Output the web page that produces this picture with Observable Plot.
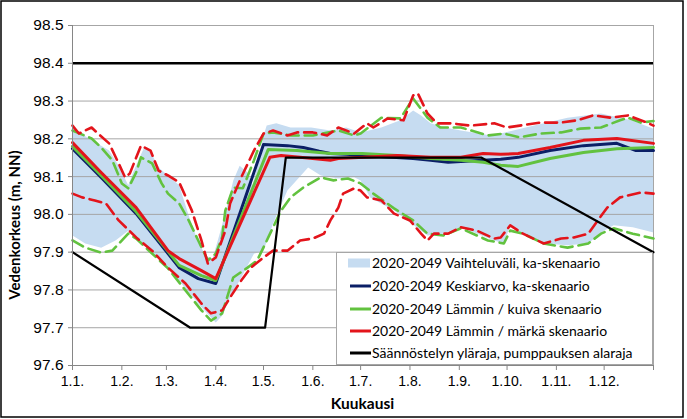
<!DOCTYPE html>
<html><head><meta charset="utf-8">
<script src="https://cdn.jsdelivr.net/npm/d3@7"></script>
<script src="https://cdn.jsdelivr.net/npm/@observablehq/plot@0.6"></script>
<style>
html,body{margin:0;padding:0;background:#fff;}
#chart{width:687px;height:419px;}
</style></head><body><div id="chart"></div>
<script>
// Day-of-year (0 = 1.1.) and water level (m, NN)
const monthDays = [0,31,59,90,120,151,181,212,243,273,304,334];
const monthLabels = ["1.1.","1.2.","1.3.","1.4.","1.5.","1.6.","1.7.","1.8.","1.9.","1.10.","1.11.","1.12."];
const yTicks = [97.6,97.7,97.8,97.9,98.0,98.1,98.2,98.3,98.4,98.5];
const upperLimit = 98.4;

const bandUpper = [[0,98.230],[9,98.204],[23,98.169],[29,98.129],[35,98.077],[38,98.111],[45,98.177],[49,98.164],[55,98.121],[60,98.103],[67,98.077],[73,97.997],[79,97.926],[84,97.889],[88,97.883],[93,97.957],[98,98.037],[101,98.090],[105,98.129],[110,98.111],[113,98.077],[117,98.143],[120,98.209],[122,98.235],[128,98.241],[137,98.230],[150,98.230],[162,98.222],[172,98.230],[181,98.217],[194,98.230],[206,98.249],[214,98.275],[219,98.262],[225,98.241],[234,98.230],[244,98.222],[263,98.209],[269,98.214],[290,98.235],[311,98.256],[332,98.267],[351,98.249],[365,98.227]];
const bandLower = [[0,97.944],[8,97.923],[18,97.912],[27,97.931],[35,97.957],[40,97.939],[60,97.859],[81,97.754],[90,97.714],[94,97.732],[99,97.780],[106,97.833],[114,97.896],[120,97.904],[126,97.976],[135,98.063],[148,98.124],[156,98.103],[167,98.095],[177,98.098],[181,98.090],[187,98.045],[202,98.010],[219,97.957],[223,97.944],[233,97.949],[244,97.966],[265,97.931],[271,97.923],[275,97.971],[281,97.952],[296,97.923],[311,97.918],[324,97.923],[332,97.952],[340,97.971],[352,97.966],[365,97.952]];

const meanKa = [[0,98.174],[18,98.098],[40,98.002],[60,97.896],[67,97.859],[79,97.830],[90,97.817],[120,98.185],[135,98.182],[145,98.177],[155,98.167],[162,98.161],[172,98.159],[193,98.153],[214,98.148],[225,98.143],[236,98.138],[244,98.140],[258,98.143],[269,98.146],[280,98.151],[300,98.169],[321,98.182],[342,98.188],[354,98.169],[365,98.169]];
const warmDry = [[0,98.180],[18,98.103],[40,98.007],[60,97.902],[67,97.865],[81,97.838],[90,97.825],[123,98.172],[141,98.169],[162,98.161],[182,98.161],[204,98.156],[225,98.148],[244,98.143],[258,98.138],[269,98.130],[280,98.127],[300,98.148],[321,98.164],[342,98.174],[365,98.177]];
const warmWet = [[0,98.190],[18,98.111],[40,98.018],[60,97.904],[67,97.883],[81,97.851],[90,97.830],[124,98.151],[131,98.156],[143,98.151],[162,98.143],[167,98.148],[183,98.151],[204,98.156],[225,98.151],[244,98.151],[258,98.161],[269,98.159],[280,98.161],[290,98.169],[300,98.177],[321,98.196],[342,98.201],[365,98.188]];

const warmDryMax = [[0,98.222],[12,98.201],[18,98.177],[25,98.143],[31,98.082],[35,98.069],[40,98.111],[43,98.151],[50,98.135],[56,98.082],[60,98.055],[67,98.029],[73,97.984],[79,97.931],[85,97.878],[90,97.896],[94,97.939],[96,98.010],[101,98.071],[107,98.069],[114,98.143],[120,98.214],[126,98.217],[137,98.209],[151,98.209],[167,98.222],[177,98.209],[181,98.214],[194,98.256],[206,98.254],[214,98.307],[223,98.256],[231,98.230],[244,98.230],[261,98.209],[271,98.214],[281,98.204],[294,98.214],[307,98.217],[319,98.227],[332,98.230],[344,98.249],[349,98.256],[357,98.243],[365,98.247]];
const warmWetMax = [[0,98.235],[4,98.214],[12,98.230],[16,98.214],[23,98.188],[29,98.135],[33,98.098],[36,98.108],[43,98.182],[49,98.169],[54,98.116],[60,98.103],[67,98.085],[75,98.010],[81,97.931],[85,97.870],[90,97.886],[96,97.957],[99,98.029],[106,98.098],[114,98.169],[120,98.214],[126,98.222],[135,98.209],[141,98.217],[151,98.217],[160,98.209],[167,98.230],[177,98.214],[185,98.241],[189,98.230],[198,98.254],[208,98.249],[214,98.315],[217,98.320],[223,98.267],[229,98.241],[238,98.241],[250,98.235],[265,98.241],[273,98.230],[281,98.235],[294,98.243],[307,98.243],[317,98.249],[327,98.262],[338,98.256],[349,98.262],[361,98.243],[365,98.235]];
const warmDryMin = [[0,97.931],[8,97.912],[18,97.899],[25,97.904],[35,97.949],[40,97.936],[60,97.857],[81,97.746],[87,97.719],[94,97.738],[101,97.833],[110,97.859],[116,97.878],[123,97.939],[131,98.010],[137,98.045],[145,98.071],[156,98.098],[164,98.090],[173,98.095],[181,98.082],[189,98.055],[202,98.016],[214,97.984],[223,97.949],[233,97.944],[244,97.963],[261,97.931],[271,97.923],[275,97.957],[283,97.949],[296,97.923],[311,97.912],[324,97.923],[332,97.949],[340,97.963],[352,97.949],[365,97.936]];
const warmWetMin = [[0,98.055],[6,98.045],[14,98.037],[21,98.029],[29,97.984],[40,97.939],[50,97.904],[60,97.859],[71,97.817],[81,97.764],[87,97.738],[94,97.746],[99,97.780],[106,97.825],[112,97.859],[120,97.886],[126,97.904],[135,97.904],[143,97.931],[151,97.936],[158,97.949],[162,97.984],[167,98.018],[170,98.055],[177,98.069],[181,98.063],[185,98.045],[194,98.037],[202,98.002],[212,97.984],[219,97.949],[223,97.931],[227,97.949],[236,97.949],[244,97.966],[254,97.957],[265,97.936],[269,97.939],[275,97.971],[283,97.949],[296,97.923],[307,97.936],[315,97.939],[324,97.949],[330,97.984],[336,98.018],[344,98.045],[357,98.058],[365,98.055]];

const regulation = [[0,97.9],[74,97.7],[121,97.7],[134,98.15],[257,98.15],[365,97.9]];

const legendLabels = ["2020-2049 Vaihteluväli, ka-skenaario","2020-2049 Keskiarvo, ka-skenaario","2020-2049 Lämmin / kuiva skenaario","2020-2049 Lämmin / märkä skenaario","Säännöstelyn yläraja, pumppauksen alaraja"];

const C = {band:"#c6dcf1", navy:"#0b1f66", green:"#62c23f", red:"#e3141b", black:"#000", grid:"#a6a6a6", axis:"#868686"};

const bandPoly = bandUpper.concat(bandLower.slice().reverse());
const X = d => d[0], Y = d => d[1];
const dash = {x:X, y:Y, strokeWidth:2.6, strokeDasharray:"12,6"};
const solid = {x:X, y:Y, strokeWidth:3};

const svg = Plot.plot({
  width: 687, height: 419,
  marginLeft: 72, marginRight: 34, marginTop: 25, marginBottom: 54,
  style: {fontFamily: "'Liberation Sans', Arial, sans-serif", fontSize: "14px", color: "#000", background: "#fff"},
  x: {domain: [0,365]},
  y: {domain: [97.6, 98.5]},
  marks: [
    Plot.line(bandPoly, {x:X, y:Y, fill:C.band, stroke:"none"}),
    Plot.gridY(yTicks, {stroke:C.grid, strokeOpacity:1, strokeWidth:1}),
    Plot.ruleX([365], {stroke:C.grid, strokeWidth:1}),
    Plot.ruleY([upperLimit], {stroke:C.black, strokeWidth:2.5}),
    Plot.line(warmDryMax, {...dash, stroke:C.green}),
    Plot.line(warmDryMin, {...dash, stroke:C.green}),
    Plot.line(warmWetMax, {...dash, stroke:C.red}),
    Plot.line(warmWetMin, {...dash, stroke:C.red}),
    Plot.line(meanKa, {...solid, stroke:C.navy}),
    Plot.line(warmDry, {...solid, stroke:C.green}),
    Plot.line(warmWet, {...solid, stroke:C.red}),
    Plot.line(regulation, {x:X, y:Y, stroke:C.black, strokeWidth:2.2}),
    Plot.ruleX([0], {stroke:C.axis, strokeWidth:1}),
    Plot.ruleY([97.6], {stroke:C.axis, strokeWidth:1}),
    Plot.axisY(yTicks, {tickFormat: d => d.toFixed(1), tickSize: 4, tickPadding: 5, stroke:C.axis, fontSize: 15.5, label: null}),
    Plot.axisX(monthDays.concat([365]), {tickFormat: d => { const i = monthDays.indexOf(d); return i < 0 ? "" : monthLabels[i]; }, tickSize: 5, tickPadding: 6, stroke:C.axis, fontSize: 14, label: null})
  ]
});
document.getElementById("chart").appendChild(svg);

const s = d3.select(svg);
// outer border
s.append("rect").attr("x",1).attr("y",1).attr("width",682).attr("height",416)
  .attr("fill","none").attr("stroke","#000").attr("stroke-width",1.5);
// axis titles
s.append("text").attr("x",362.5).attr("y",409).attr("text-anchor","middle")
  .attr("font-family","Lato, sans-serif").attr("font-weight","bold").attr("font-size",15.5).attr("fill","#000").text("Kuukausi");
s.append("text").attr("transform","translate(20,225) rotate(-90)").attr("text-anchor","middle")
  .attr("font-family","Lato, sans-serif").attr("font-weight","bold").attr("font-size",15).attr("fill","#000").text("Vedenkorkeus (m, NN)");

// legend
const lg = s.append("g").attr("text-anchor","start");
lg.append("rect").attr("x",336.5).attr("y",252.5).attr("width",316).attr("height",112)
  .attr("fill","#ffffff").attr("stroke",C.grid).attr("stroke-width",1);
const rowY = [263, 286, 309, 331, 353];
const legendStyles = [
  {type:"patch", color:C.band},
  {type:"line", color:C.navy},
  {type:"line", color:C.green},
  {type:"line", color:C.red},
  {type:"line", color:C.black}
];
legendStyles.forEach((st, i) => {
  if (st.type === "patch") {
    lg.append("rect").attr("x",348).attr("y",rowY[i]-4.5).attr("width",22).attr("height",9).attr("fill",st.color);
  } else {
    lg.append("line").attr("x1",350).attr("x2",371).attr("y1",rowY[i]).attr("y2",rowY[i])
      .attr("stroke",st.color).attr("stroke-width",3);
  }
  lg.append("text").attr("x",372).attr("y",rowY[i]).attr("dy","0.35em").attr("text-anchor","start")
    .attr("font-family","Lato, sans-serif").attr("font-size",14).attr("fill","#000").text(legendLabels[i]);
});
</script>
</body></html>
